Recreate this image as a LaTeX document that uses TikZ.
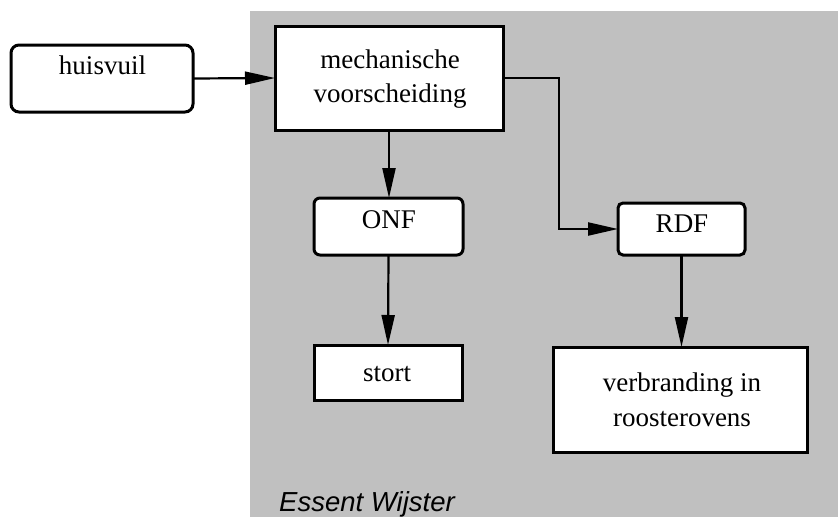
\documentclass[tikz,border=0pt]{standalone}
\usepackage{fontspec}
\setmainfont{Liberation Serif}
\newfontfamily\labelsans{Liberation Sans}
\usetikzlibrary{arrows.meta}
\definecolor{plantgray}{HTML}{C0C0C0}
\tikzset{
  box/.style={draw=black, fill=white, line width=3pt, inner sep=0pt, outer sep=0pt},
  roundbox/.style={box, rounded corners=6pt},
  txt/.style={font=\fontsize{27}{34}\selectfont, inner sep=0pt, anchor=base, align=center},
  flow/.style={draw=black, line width=2.2pt, -{Triangle[length=30pt, width=13pt]}},
}
\begin{document}
\begin{tikzpicture}[x=1pt, y=-1pt]
  \useasboundingbox (0,0) rectangle (838,517);
  % plant area
  \fill[plantgray] (250,11) rectangle (838,517);

  % boxes
  \node[roundbox, rounded corners=8pt, minimum width=182pt, minimum height=67pt] (huis) at (102,78.5) {};
  \node[box, minimum width=228pt, minimum height=104pt] (mech) at (389,78) {};
  \node[roundbox, minimum width=149pt, minimum height=57pt] (onf) at (388.5,226.5) {};
  \node[roundbox, rounded corners=5pt, minimum width=127pt, minimum height=52pt] (rdf) at (681.5,229) {};
  \node[box, minimum width=148pt, minimum height=55pt] (stort) at (388,372.5) {};
  \node[box, minimum width=254pt, minimum height=105pt] (verb) at (680,399.5) {};

  % box texts (multi-line texts sit on the baseline of their last line)
  \node[txt] (thuis) at (102.5,74) {huisvuil};
  \node[txt] (tmech) at (390,102) {mechanische\\voorscheiding};
  \node[txt] (tonf) at (389,228) {ONF};
  \node[txt] (trdf) at (682,232) {RDF};
  \node[txt] (tstort) at (387,381) {stort};
  \node[txt, font=\fontsize{27}{35}\selectfont] (tverb) at (682,426) {verbranding in\\roosterovens};

  % plant name
  \node[font=\labelsans\itshape\fontsize{27.5}{33}\selectfont, inner sep=0pt, anchor=base west] (plant) at (279,511) {Essent Wijster};

  % connectors
  \coordinate (turn) at (559,150);
  \draw[flow] (huis.east) -- (mech.west);
  \draw[flow] (mech.south) -- (mech.south |- onf.north);
  \draw[flow] (mech.east) -| (turn) |- (rdf.west);
  \draw[flow] (onf.south) -- (stort.north);
  \draw[flow] (rdf.south) -- (rdf.south |- verb.north);
\end{tikzpicture}
\end{document}
